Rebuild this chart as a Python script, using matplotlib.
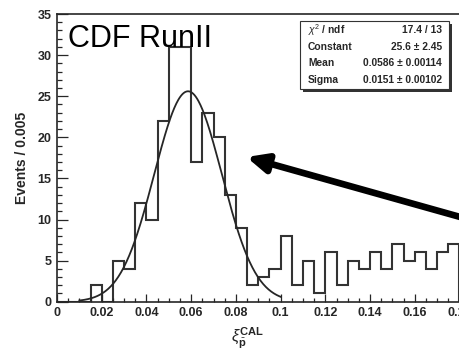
import numpy as np
import matplotlib
matplotlib.use("Agg")
import matplotlib.pyplot as plt
from matplotlib.patches import Rectangle
from matplotlib.ticker import MultipleLocator

plt.rcParams["font.family"] = ["Liberation Sans", "DejaVu Sans"]
plt.rcParams["mathtext.fontset"] = "custom"
plt.rcParams["mathtext.rm"] = "Liberation Sans"
plt.rcParams["mathtext.bf"] = "Liberation Sans:bold"
plt.rcParams["mathtext.it"] = "Liberation Sans:italic"

# histogram, bins of 0.005 from 0 to 0.18
bin_edges = np.linspace(0.0, 0.18, 37)
counts = [0, 0, 0, 2, 0, 5, 4, 12, 10, 22, 31, 31, 17, 23, 20, 13, 9, 2,
          3, 4, 8, 2, 5, 1, 6, 2, 5, 4, 6, 4, 7, 5, 6, 4, 6, 7]

# gaussian fit results
fit_const, fit_mean, fit_sigma = 25.6, 0.0586, 0.0151
fit_range = (0.01, 0.1)
stat_names = [r"$\chi^{2}$ / ndf", "Constant", "Mean", "Sigma"]
stat_values = ["17.4 / 13", "25.6 \u00b1 2.45", "0.0586 \u00b1 0.00114",
               "0.0151 \u00b1 0.00102"]

W, H = 460, 351
fig = plt.figure(figsize=(W / 100, H / 100), dpi=100)
ax = fig.add_axes([57 / W, 1 - 301.7 / H, (459.5 - 57) / W, (301.7 - 14) / H])

dark = "#262626"
ax.stairs(counts, bin_edges, color="#333333", lw=1.5)

xf = np.linspace(fit_range[0], fit_range[1], 300)
yf = fit_const * np.exp(-0.5 * ((xf - fit_mean) / fit_sigma) ** 2)
ax.plot(xf, yf, color=dark, lw=1.3)

ax.set_xlim(0, 0.18)
ax.set_ylim(0, 35)
ax.xaxis.set_major_locator(MultipleLocator(0.02))
ax.xaxis.set_minor_locator(MultipleLocator(0.005))
ax.yaxis.set_major_locator(MultipleLocator(5))
ax.yaxis.set_minor_locator(MultipleLocator(1))
ax.xaxis.set_major_formatter(lambda v, p: "0" if abs(v) < 1e-9 else f"{v:.2f}".rstrip("0"))

ax.tick_params(which="both", direction="in", top=False, right=False,
               color=dark, width=0.9)
ax.tick_params(axis="y", which="major", length=8, pad=4)
ax.tick_params(axis="y", which="minor", length=3.6)
ax.tick_params(axis="x", which="major", length=6, pad=4)
ax.tick_params(axis="x", which="minor", length=3)
for lab in ax.get_xticklabels() + ax.get_yticklabels():
    lab.set_fontweight("bold")
    lab.set_fontsize(9)
    lab.set_color(dark)
for s in ax.spines.values():
    s.set_linewidth(1.2)
    s.set_color(dark)

ax.set_ylabel("Events / 0.005", fontsize=10, fontweight="bold", color=dark,
              labelpad=6)
ax.text(0.085, -0.085, r"$\xi^{\mathbf{CAL}}_{\bar{\mathbf{p}}}$", transform=ax.get_xaxis_transform(),
        fontsize=11.5, color=dark, ha="center", va="top")

ax.text(0.005, 33.8, "CDF RunII", fontsize=22, color="black", va="top", ha="left")

# arrow
ax.annotate("", xy=(0.0847, 17.6), xytext=(0.183, 10.1),
            arrowprops=dict(arrowstyle="-|>,head_length=1.2,head_width=0.55",
                            lw=4.8, color="black", shrinkA=0, shrinkB=0),
            annotation_clip=False)

# stats box
bx0, by0, bx1, by1 = 300, 21, 449, 89
fig.patches.append(Rectangle((bx0 / W + 2.5 / W, 1 - (by1 + 2.5) / H), (bx1 - bx0) / W,
                             (by1 - by0) / H, transform=fig.transFigure,
                             facecolor="#333333", edgecolor="none", zorder=5))
fig.patches.append(Rectangle((bx0 / W, 1 - by1 / H), (bx1 - bx0) / W, (by1 - by0) / H,
                             transform=fig.transFigure, facecolor="white",
                             edgecolor="#333333", lw=0.8, zorder=6))
rows_y = [30, 47, 63, 80]
for name, val, ry in zip(stat_names, stat_values, rows_y):
    fig.text(308 / W, 1 - ry / H, name, fontsize=7.4, fontweight="bold",
             color=dark, va="center", ha="left", zorder=7)
    fig.text(442 / W, 1 - ry / H, val, fontsize=7.4, fontweight="bold",
             color=dark, va="center", ha="right", zorder=7)

fig.savefig("out.png", dpi=100)
